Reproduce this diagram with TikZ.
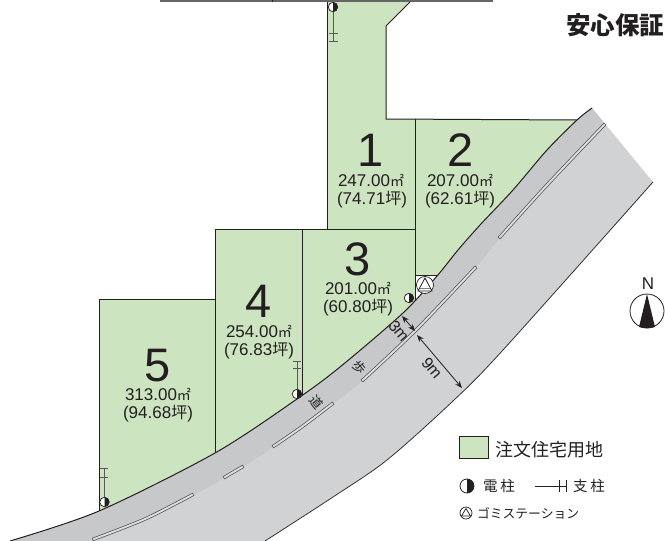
\documentclass[tikz,border=0pt]{standalone}
\usepackage{fontspec}
\setmainfont{Liberation Sans}
\newfontfamily\cjk{Noto Sans CJK JP}
\newfontfamily\cjkheavy{Noto Sans CJK JP Black}
\usetikzlibrary{arrows.meta}
\newcommand\fsz[1]{\fontsize{#1}{#1}\selectfont}
\newcommand\mtwo{{\cjk\fsz{14}㎡}}
\newcommand\tsubo{{\cjk\fsz{16}坪}}
\definecolor{lotgreen}{HTML}{CDE4C0}
\definecolor{roadlight}{HTML}{D1D2D4}
\definecolor{roaddark}{HTML}{C7C8CA}
\definecolor{inkline}{HTML}{231F20}
\tikzset{
  every node/.style={inner sep=0pt,outer sep=0pt,text=inkline},
  lotline/.style={draw=inkline,line width=1pt},
  lotnum/.style={font=\fsz{47},text height=33pt,text depth=0pt},
  lotarea/.style={font=\fsz{17}},
  medianstrip/.style={draw=black!70,line width=.7pt,double=roadlight!70!white,double distance=1.9pt,line cap=rect},
  dimarrow/.style={draw=inkline,line width=.8pt,{Stealth[length=7pt,width=5.5pt]}-{Stealth[length=7pt,width=5.5pt]}},
  roadlabel/.style={font=\cjk\fsz{13},rotate=-50},
  dimlabel/.style={font=\fsz{16},rotate=-50},
  staypost/.style={draw=black!65,line width=.9pt},
  legendtext/.style={font=\cjk\fsz{14.5},anchor=west},
}
\newcommand\polemark[3]{% name, x, y
  \node[circle,draw=inkline,fill=white,line width=.7pt,minimum size=9.5pt] (#1) at (#2,#3) {};
  \fill[inkline] (#2,#3-4.75) arc[start angle=-90,end angle=90,radius=4.75] -- cycle;
}
\begin{document}
\begin{tikzpicture}[x=1pt,y=-1pt]
\useasboundingbox (0,0) rectangle (665,541);
% lots
\fill[lotgreen] (327.5,2) -- (410,2) -- (386,26) -- (386,119) -- (577,120) -- (585,130) -- (414,320) -- (215,470) -- (105,530) -- (99,513) -- (99,299) -- (215,299) -- (215,229) -- (327.5,229) -- cycle;
\fill[white] (415,275) -- (437,275) -- (437,300) -- (415,300) -- cycle;
% top line
\draw[black!60,line width=1.4pt] (160,1) -- (493,1);
\draw[inkline,line width=.8pt] (272,0) -- (272,2);
% lot outlines
\draw[lotline] (327.5,2) -- (327.5,229);
\draw[lotline] (410,2) -- (386,26) -- (386,119) -- (577,120);
\draw[lotline] (215,229) -- (415,229);
\draw[lotline] (415,119) -- (415,300);
\draw[lotline] (415,275) -- (437,275);
\draw[lotline] (302,229) -- (302,397);
\draw[lotline] (215,229) -- (215,455);
\draw[lotline] (99,299) -- (215,299);
\draw[lotline] (99,299) -- (99,514);
% road
\fill[roadlight] plot[smooth,tension=.5] coordinates {(10,541) (99,511) (215,453) (297,399) (340,367) (403,313) (437,276) (458,250) (480,225) (513,190) (547,150) (577,120) (592,108)} -- (653,182) -- plot[smooth,tension=.5] coordinates {(653,182) (503,350) (453,401) (387,460) (333,497) (265,541)} -- cycle;
\fill[roaddark] plot[smooth,tension=.5] coordinates {(10,541) (99,511) (215,453) (297,399) (340,367) (403,313) (437,276) (458,250) (480,225) (513,190) (547,150) (577,120) (592,108)} -- (605,124) -- plot[smooth,tension=.5] coordinates {(605,124) (547,185) (500,238) (476,267) (417,329) (362,381) (333,404) (273,447) (243,467) (224,478) (193,495) (93,539) (85,541)} -- cycle;
\draw[inkline,line width=1pt] plot[smooth,tension=.5] coordinates {(10,541) (99,511) (215,453) (297,399) (340,367) (403,313) (437,276) (458,250) (480,225) (513,190) (547,150) (577,120) (592,108)};
\draw[black!80,line width=.8pt] plot[smooth,tension=.5] coordinates {(653,182) (503,350) (453,401) (387,460) (333,497) (265,541)};
% median strips
\draw[medianstrip] plot[smooth,tension=.5] coordinates {(604,125) (547,185) (500,237)};
\draw[medianstrip] plot[smooth,tension=.5] coordinates {(475,268) (417,329) (363,380)};
\draw[medianstrip] plot[smooth,tension=.5] coordinates {(332,404) (303,426) (274,446)};
\draw[medianstrip] (242,467) -- (225,477);
\draw[medianstrip] plot[smooth,tension=.5] coordinates {(192,495) (145,519) (94,539)};
% stays and poles
\draw[staypost] (333,7) -- (333,41) (328.5,33) -- (337.5,33) (328.5,41) -- (337.5,41);
\polemark{poletop}{333}{7}
\polemark{polethree}{409}{298}
\draw[staypost] (297,394) -- (297,361) (293,361) -- (301,361) (293,368.5) -- (301,368.5);
\polemark{polefour}{297}{394}
\draw[staypost] (104,502) -- (104,468) (100,468) -- (108,468) (100,477) -- (108,477);
\polemark{polefive}{104.5}{502}
% refuse station
\node[circle,draw=inkline,fill=white,line width=.7pt,minimum size=17pt] (gomi) at (425,285) {};
\draw[inkline,line width=.8pt,fill=white] (425,278) -- (432,291) -- (418,291) -- cycle;
\draw[black!50,line width=1.5pt] (420,288.5) -- (430,288.5);
% labels of lots
\node[lotnum] (n1) at (371,150) {1};
\node[lotarea] (a1) at (371,180) {247.00\mtwo};
\node[lotarea] (t1) at (372,200) {(74.71\tsubo)};
\node[lotnum] (n2) at (461,150) {2};
\node[lotarea] (a2) at (460,180) {207.00\mtwo};
\node[lotarea] (t2) at (460,200) {(62.61\tsubo)};
\node[lotnum] (n3) at (358,259) {3};
\node[lotarea] (a3) at (358,288) {201.00\mtwo};
\node[lotarea] (t3) at (358,308) {(60.80\tsubo)};
\node[lotnum] (n4) at (259,301) {4};
\node[lotarea] (a4) at (259,331) {254.00\mtwo};
\node[lotarea] (t4) at (259,351) {(76.83\tsubo)};
\node[lotnum] (n5) at (158,365) {5};
\node[lotarea] (a5) at (158,394) {313.00\mtwo};
\node[lotarea] (t5) at (158,414) {(94.68\tsubo)};
% road labels
\node[roadlabel] (ho) at (359,367) {歩};
\node[roadlabel] (do) at (317,402) {道};
% dimensions
\coordinate (d3a) at (402,316);
\coordinate (d3b) at (415,331);
\coordinate (d9a) at (417,335);
\coordinate (d9b) at (462,388);
\draw[dimarrow] (d3a) -- (d3b);
\draw[dimarrow] (d9a) -- (d9b);
\node[dimlabel] (l3) at (399,331) {3m};
\node[dimlabel] (l9) at (432,368) {9m};
% title
\node[font=\cjkheavy\fsz{24.5},anchor=east] (title) at (664,25) {安心保証};
% north mark
\node[font=\fsz{17}] (north) at (648,284) {N};
\node[circle,draw=inkline,fill=white,line width=.8pt,minimum size=34pt] (compass) at (647,311) {};
\fill[inkline] (647,294) -- (655,327) .. controls (650,328.5) and (644,328.5) .. (639,327) -- cycle;
% legend
\node[draw=inkline,fill=lotgreen,line width=.8pt,minimum width=29pt,minimum height=22pt] (key) at (473.5,447) {};
\node[font=\cjk\fsz{18},anchor=west] (keytext) at (495,450) {注文住宅用地};
\node[circle,draw=inkline,fill=white,line width=.8pt,minimum size=14pt] (keypole) at (467,486) {};
\fill[inkline] (467,479) arc[start angle=-90,end angle=90,radius=7] -- cycle;
\node[legendtext] (keypoletext) at (483,486) {電\hspace{3pt}柱};
\coordinate (staystart) at (535,486);
\coordinate (stayend) at (566,486);
\draw[inkline,line width=.8pt] (staystart) -- (stayend) (559,480) -- (559,492) (566,480) -- (566,492);
\node[legendtext] (keystaytext) at (573,486) {支\hspace{3pt}柱};
\node[circle,draw=inkline,fill=white,line width=.7pt,minimum size=12pt] (keygomi) at (466,513) {};
\draw[inkline,line width=.7pt] (466,508.5) -- (470.5,516) -- (461.5,516) -- cycle;
\node[font=\cjk\fsz{12.8},anchor=west] (keygomitext) at (477,513) {ゴミステーション};
\end{tikzpicture}
\end{document}
